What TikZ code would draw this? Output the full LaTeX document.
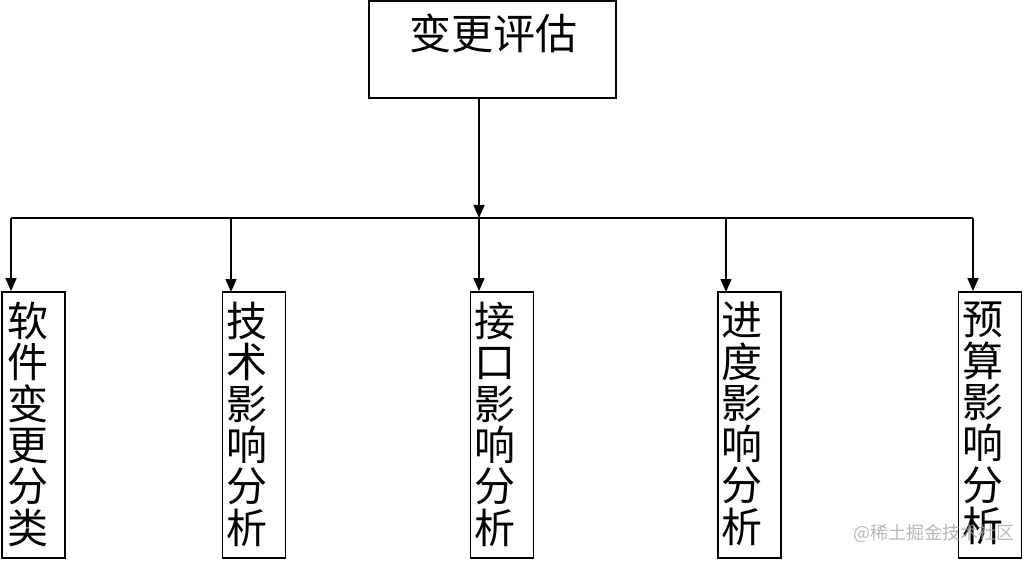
\documentclass[tikz,border=0pt]{standalone}
\usepackage{fontspec}
\newfontfamily\cjk{Noto Sans CJK SC}
\usetikzlibrary{arrows.meta}
\begin{document}
\begin{tikzpicture}[x=1pt,y=1pt,
  box/.style={draw=black,line width=1.8pt,inner sep=0pt},
  topbox/.style={box,minimum width=247pt,minimum height=97pt},
  subbox/.style={box,minimum width=63pt,minimum height=266pt},
  toptext/.style={font=\cjk\fontsize{42}{42}\selectfont,inner sep=0pt},
  subtext/.style={font=\cjk\fontsize{41}{41.3}\selectfont,align=left,inner sep=0pt,anchor=north west},
  conn/.style={line width=1.5pt},
  arr/.style={conn,-{Triangle[width=11pt,length=13pt]}},
  wm/.style={font=\cjk\fontsize{18}{18}\selectfont,text=gray!70,opacity=0.8,inner sep=0pt}
]
\useasboundingbox (0,0) rectangle (1030,-561);
% top
\node[topbox] (top) at (492.5,-49.5) {};
\node[toptext] (toplabel) at (493,-33) {变更评估};
% junction
\coordinate (j) at (479,-218);
\coordinate (jl) at (11,-218);
\coordinate (jr) at (973,-218);
\coordinate (tb) at (479,-98);
\draw[arr] (tb) -- (j);
\draw[conn] (jl) -- (jr);
% sub boxes
\node[subbox] (b1) at (33.5,-425) {};
\node[subbox] (b2) at (254,-425) {};
\node[subbox] (b3) at (502,-425) {};
\node[subbox] (b4) at (749.5,-425) {};
\node[subbox] (b5) at (990,-425) {};
\node[subtext] (t1) at (7,-302) {软\\件\\变\\更\\分\\类};
\node[subtext] (t2) at (226,-302) {技\\术\\影\\响\\分\\析};
\node[subtext] (t3) at (474,-302) {接\\口\\影\\响\\分\\析};
\node[subtext] (t4) at (721,-302) {进\\度\\影\\响\\分\\析};
\node[subtext] (t5) at (962,-302) {预\\算\\影\\响\\分\\析};
% drops
\draw[arr] (jl) -- (jl |- b1.north);
\draw[arr] (231,-218) -- (231,-292);
\draw[arr] (j) -- (j |- b3.north);
\draw[arr] (726,-218) -- (726,-292);
\draw[arr] (jr) -- (jr |- b5.north);
% watermark
\node[wm,anchor=west] (wmk) at (853,-533) {@稀土掘金技术社区};
\end{tikzpicture}
\end{document}
